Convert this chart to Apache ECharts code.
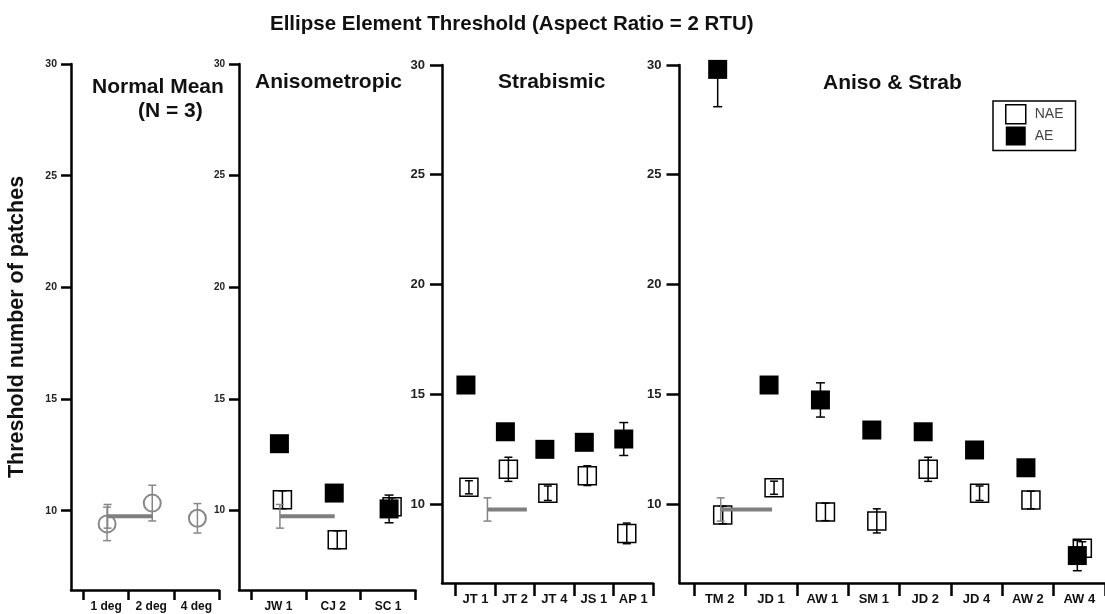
<!DOCTYPE html>
<html>
<head>
<meta charset="utf-8">
<title>Ellipse Element Threshold</title>
<style>
html, body { margin: 0; padding: 0; background: #fff; }
#main_echart { width: 1105px; height: 614px; }
</style>
<script src="https://cdn.jsdelivr.net/npm/echarts@6.0.0/dist/echarts.min.js"></script>
</head>
<body>
<div id="main_echart"></div>
<script>
// tick values on every y axis
var yTicks = [10, 15, 20, 25, 30];
// normal mean reference line (drawn in every panel)
var refMean = 9.75;
var refErr = 0.53;

// Normal Mean (N = 3)
var normalCats = ['1 deg', '2 deg', '4 deg'];
var normalVal = [9.41, 10.34, 9.66];
var normalErr = [0.75, 0.8, 0.66];

// Anisometropic
var anisoCats = ['JW 1', 'CJ 2', 'SC 1'];
var anisoNAE = [10.49, 8.70, 10.18];
var anisoNAEErr = [0.4, 0.4, 0.4];
var anisoAE = [13.0, 10.79, 10.08];
var anisoAEErr = [0.3, 0.3, 0.62];

// Strabismic
var strabCats = ['JT 1', 'JT 2', 'JT 4', 'JS 1', 'AP 1'];
var strabNAE = [10.76, 11.58, 10.49, 11.29, 8.66];
var strabNAEErr = [0.3, 0.55, 0.33, 0.45, 0.47];
var strabAE = [15.42, 13.29, 12.49, 12.81, 12.96];
var strabAEErr = [0.3, 0.3, 0.3, 0.3, 0.75];

// Aniso & Strab
var bothCats = ['TM 2', 'JD 1', 'AW 1', 'SM 1', 'JD 2', 'JD 4', 'AW 2', 'AW 4'];
var bothNAE = [9.5, 10.74, 9.64, 9.23, 11.58, 10.49, 10.18, 7.98];
var bothNAEErr = [0.4, 0.3, 0.4, 0.55, 0.55, 0.33, 0.4, 0.3];
var bothAE = [29.8, 15.42, 14.74, 13.37, 13.29, 12.46, 11.65, 7.65];
var bothAEErr = [1.7, 0.3, 0.78, 0.3, 0.3, 0.3, 0.3, 0.69];

var FONT = '"Liberation Sans", Arial, Helvetica, sans-serif';

// layout of the four panels (pixels)
var panels = [
    {left: 71, first: 83.5, right: 219, top: 64, bottom: 590, min: 6.45, yFont: 10.5, yGap: 14, yTick: 10,
        xFont: 12, xTick: 10, xGap: 11, shiftAE: 1, shiftNAE: 4, shiftMean: 1.5, cats: normalCats},
    {left: 239, first: 251, right: 415.5, top: 64, bottom: 590, min: 6.45, yFont: 10, yGap: 14, yTick: 10,
        xFont: 12, xTick: 10, xGap: 11, shiftAE: 1, shiftNAE: 4, shiftMean: 1.5, cats: anisoCats},
    {left: 442, first: 455.7, right: 653, top: 65, bottom: 583, min: 6.4, yFont: 13, yGap: 17, yTick: 12,
        xFont: 13, xTick: 13, xGap: 10, shiftAE: -9.5, shiftNAE: -6.5, shiftMean: 12, cats: strabCats},
    {left: 679.5, first: 694, right: 1108, top: 65, bottom: 583, min: 6.4, yFont: 13, yGap: 18, yTick: 13,
        xFont: 13, xTick: 13, xGap: 10, shiftAE: -2, shiftNAE: 3, shiftMean: 1, cats: bothCats}
];

var myChart = echarts.init(document.getElementById('main_echart'), null, {renderer: 'canvas'});

function errorBarItem(shift, color, cap) {
    return function (params, api) {
        var v = api.value(1), e = api.value(2);
        var hi = api.coord([api.value(0), v + e]);
        var lo = api.coord([api.value(0), v - e]);
        var x = hi[0] + shift;
        var style = {stroke: color, lineWidth: 1.5, fill: null};
        return {
            type: 'group',
            children: [
                {type: 'line', shape: {x1: x, y1: hi[1], x2: x, y2: lo[1]}, style: style},
                {type: 'line', shape: {x1: x - cap, y1: hi[1], x2: x + cap, y2: hi[1]}, style: style},
                {type: 'line', shape: {x1: x - cap, y1: lo[1], x2: x + cap, y2: lo[1]}, style: style}
            ]
        };
    };
}

function meanItem(shift) {
    return function (params, api) {
        var m = api.value(1), e = api.value(2);
        var a = api.coord([api.value(0), m]);
        var b = api.coord([api.value(3), m]);
        var hi = api.coord([api.value(0), m + e]);
        var lo = api.coord([api.value(0), m - e]);
        var x = a[0] + shift;
        var thin = {stroke: '#858585', lineWidth: 1.5, fill: null};
        return {
            type: 'group',
            children: [
                {type: 'line', shape: {x1: x, y1: a[1], x2: b[0] + shift, y2: b[1]}, style: {stroke: '#7f7f7f', lineWidth: 4}},
                {type: 'line', shape: {x1: x, y1: hi[1], x2: x, y2: lo[1]}, style: thin},
                {type: 'line', shape: {x1: x - 4, y1: hi[1], x2: x + 4, y2: hi[1]}, style: thin},
                {type: 'line', shape: {x1: x - 4, y1: lo[1], x2: x + 4, y2: lo[1]}, style: thin}
            ]
        };
    };
}

function withErr(vals, errs) {
    var out = [];
    for (var i = 0; i < vals.length; i++) {
        out.push([i, vals[i], errs[i]]);
    }
    return out;
}

var grids = [], xAxes = [], yAxes = [], series = [];

// frame grids (axis lines + y ticks)
for (var i = 0; i < panels.length; i++) {
    var p = panels[i];
    grids.push({left: p.left, top: p.top, width: p.right - p.left, height: p.bottom - p.top, containLabel: false});
    xAxes.push({
        type: 'value', gridIndex: i, min: 0, max: 1,
        axisLine: {show: true, onZero: false, lineStyle: {color: '#000', width: 2.5}},
        axisTick: {show: false}, axisLabel: {show: false}, splitLine: {show: false}
    });
    yAxes.push({
        type: 'value', gridIndex: i, min: p.min, max: 30,
        name: i === 0 ? 'Threshold number of patches' : '',
        nameLocation: 'middle', nameGap: 43, nameRotate: 90,
        nameTextStyle: {fontFamily: FONT, fontSize: 21.5, fontWeight: 'bold', color: '#111'},
        axisLine: {show: true, lineStyle: {color: '#000', width: 2.5}},
        axisTick: {show: true, length: p.yTick, customValues: yTicks, lineStyle: {color: '#000', width: 2.5}},
        axisLabel: {show: true, customValues: yTicks, margin: p.yGap, fontFamily: FONT, fontSize: p.yFont, fontWeight: 'bold', color: '#222'},
        splitLine: {show: false}
    });
}
// data grids (category ticks + marks)
for (var j = 0; j < panels.length; j++) {
    var q = panels[j];
    grids.push({left: q.first, top: q.top, width: q.right - q.first, height: q.bottom - q.top, containLabel: false});
    xAxes.push({
        type: 'category', gridIndex: 4 + j, data: q.cats, boundaryGap: true,
        axisLine: {show: false, onZero: false},
        axisTick: {show: true, length: q.xTick, lineStyle: {color: '#000', width: 2.5}},
        axisLabel: {margin: q.xGap, fontFamily: FONT, fontSize: q.xFont, fontWeight: 'bold', color: '#111', interval: 0},
        splitLine: {show: false}
    });
    yAxes.push({type: 'value', gridIndex: 4 + j, min: q.min, max: 30, show: false, splitLine: {show: false}});
}

// Normal mean circles
series.push({
    name: 'Normal', type: 'scatter', xAxisIndex: 4, yAxisIndex: 4, z: 2,
    symbol: 'circle', symbolSize: 17, symbolOffset: [panels[0].shiftAE, 0],
    itemStyle: {color: 'rgba(255,255,255,0)', borderColor: '#888', borderWidth: 2, opacity: 1},
    data: normalVal
});
series.push({
    type: 'custom', xAxisIndex: 4, yAxisIndex: 4, z: 3, clip: true,
    renderItem: errorBarItem(panels[0].shiftAE, '#888', 4),
    data: withErr(normalVal, normalErr)
});

function addPanel(k, nae, naeErr, ae, aeErr) {
    var p = panels[k];
    series.push({
        name: 'NAE', type: 'scatter', xAxisIndex: 4 + k, yAxisIndex: 4 + k, z: 2,
        symbol: 'rect', symbolSize: 18, symbolOffset: [p.shiftNAE, 0],
        itemStyle: {color: '#fff', borderColor: '#000', borderWidth: 1.5, opacity: 1},
        data: nae
    });
    series.push({
        type: 'custom', xAxisIndex: 4 + k, yAxisIndex: 4 + k, z: 3, clip: true,
        renderItem: errorBarItem(p.shiftNAE, '#000', 4),
        data: withErr(nae, naeErr)
    });
    series.push({
        name: 'AE', type: 'scatter', xAxisIndex: 4 + k, yAxisIndex: 4 + k, z: 4,
        symbol: 'rect', symbolSize: 19, symbolOffset: [p.shiftAE, 0],
        itemStyle: {color: '#000', opacity: 1},
        data: ae
    });
    series.push({
        type: 'custom', xAxisIndex: 4 + k, yAxisIndex: 4 + k, z: 5, clip: true,
        renderItem: errorBarItem(p.shiftAE, '#000', 4.5),
        data: withErr(ae, aeErr)
    });
}
addPanel(1, anisoNAE, anisoNAEErr, anisoAE, anisoAEErr);
addPanel(2, strabNAE, strabNAEErr, strabAE, strabAEErr);
addPanel(3, bothNAE, bothNAEErr, bothAE, bothAEErr);

// grey normal-mean line in each panel
for (var m = 0; m < panels.length; m++) {
    series.push({
        type: 'custom', xAxisIndex: 4 + m, yAxisIndex: 4 + m, z: 6, clip: false,
        renderItem: meanItem(panels[m].shiftMean),
        data: [[0, refMean, refErr, 1]]
    });
}

var titleStyle = {fontFamily: FONT, fontSize: 21, fontWeight: 'bold', color: '#111'};
var option = {
    animation: false,
    backgroundColor: '#fff',
    title: [
        {text: 'Ellipse Element Threshold (Aspect Ratio = 2 RTU)', left: 270, top: 14, padding: 0,
            textStyle: {fontFamily: FONT, fontSize: 20.5, fontWeight: 'bold', color: '#111'}},
        {text: 'Normal Mean', left: 92, top: 77, padding: 0, textStyle: titleStyle},
        {text: '(N = 3)', left: 138, top: 101, padding: 0, textStyle: titleStyle},
        {text: 'Anisometropic', left: 255, top: 72, padding: 0, textStyle: titleStyle},
        {text: 'Strabismic', left: 498, top: 72, padding: 0, textStyle: titleStyle},
        {text: 'Aniso & Strab', left: 823, top: 73, padding: 0, textStyle: titleStyle}
    ],
    legend: {
        orient: 'vertical', left: 993, top: 101,
        padding: [3, 12, 5, 12], itemWidth: 20, itemHeight: 19, itemGap: 2,
        borderColor: '#000', borderWidth: 1.5, selectedMode: false,
        textStyle: {fontFamily: FONT, fontSize: 14, color: '#444', padding: [0, 0, 0, 4]},
        data: [
            {name: 'NAE', icon: 'rect', itemStyle: {color: '#fff', borderColor: '#000', borderWidth: 1.5}},
            {name: 'AE', icon: 'rect', itemStyle: {color: '#000'}}
        ]
    },
    grid: grids,
    xAxis: xAxes,
    yAxis: yAxes,
    series: series
};

myChart.setOption(option);
</script>
</body>
</html>
